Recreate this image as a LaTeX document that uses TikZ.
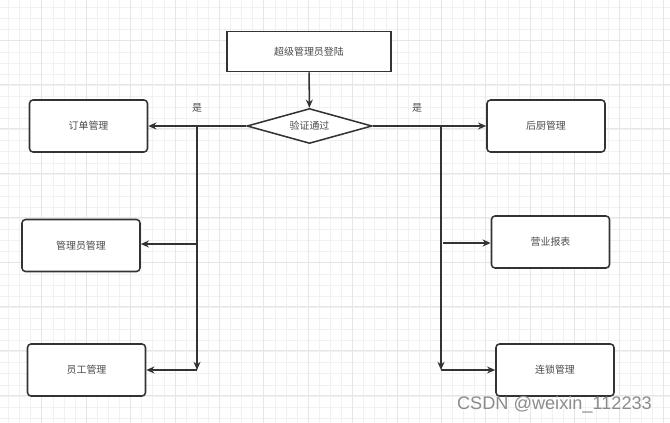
\documentclass[tikz,border=0pt]{standalone}
\usepackage{fontspec}
\newfontfamily\cjk{Noto Sans CJK SC}
\setsansfont{Liberation Sans}
\usetikzlibrary{arrows.meta,shapes.geometric,positioning}
\definecolor{lineclr}{HTML}{333333}
\definecolor{gridminor}{HTML}{F1F1F1}
\definecolor{gridmajor}{HTML}{E6E6E6}
\tikzset{
    module/.style={
    rectangle,rounded corners=3pt,draw=lineclr,line width=1.3pt,fill=white,
    minimum width=3.54cm,minimum height=1.56cm,font=\cjk\fontsize{8.5}{10}\selectfont,text=black!70
    },
    login/.style={
    rectangle,draw=lineclr,line width=1.3pt,fill=white,
    minimum width=4.92cm,minimum height=1.2cm,font=\cjk\fontsize{8.5}{10}\selectfont,text=black!70
    },
    check/.style={
    diamond,aspect=3.5,inner sep=0pt,draw=lineclr,line width=1.3pt,fill=white,
    minimum width=3.75cm,minimum height=1.05cm,font=\cjk\fontsize{8.5}{10}\selectfont,text=black!70
    },
    yes/.style={
    font=\cjk\fontsize{8.5}{10}\selectfont,text=black!70,inner sep=1pt
    },
    flow/.style={
    draw=lineclr,line width=1.3pt,-{Stealth[length=7pt,width=6pt]}
    },
}

\begin{document}
\begin{tikzpicture}[x=0.03cm,y=-0.03cm]
   \useasboundingbox (0,0) rectangle (670,423);
   \fill[white] (0,0) rectangle (670,423);
   % background grid
   \foreach \i in {0,...,60} {
     \draw[gridminor,line width=0.6pt] ({8.5+11.1*\i},0) -- ({8.5+11.1*\i},423);
   }
   \foreach \i in {0,...,38} {
     \draw[gridminor,line width=0.6pt] (0,{7.5+11.1*\i}) -- (670,{7.5+11.1*\i});
   }
   \foreach \i in {0,...,14} {
     \draw[gridmajor,line width=0.8pt] ({41.8+44.4*\i},0) -- ({41.8+44.4*\i},423);
   }
   \foreach \i in {0,...,9} {
     \draw[gridmajor,line width=0.8pt] (0,{40+44.4*\i}) -- (670,{40+44.4*\i});
   }

   \node[login] (top) at (309,51.5) {超级管理员登陆};
   \node[check] (verify) at (309.5,126) {验证通过};
   \node[module] (order) at (88.5,126) {订单管理};
   \node[module] (kitchen) at (546,126) {后厨管理};
   \node[module] (admin) at (81,245.5) {管理员管理};
   \node[module] (report) at (550.5,242) {营业报表};
   \node[module] (staff) at (86.5,370) {员工管理};
   \node[module] (chain) at (555,370) {连锁管理};

   \coordinate (bl) at (197,126);
   \coordinate (br) at (441,126);
   \coordinate (cl) at (197,370);
   \coordinate (cr) at (441,370);
   \coordinate (al) at (197,244);
   \coordinate (ar) at (443,243);

   \node[yes] (yesl) at (197,108) {是};
   \node[yes] (yesr) at (417,108) {是};

   \draw[flow] (top) -- (verify);
   \draw[flow] (verify.west) -- (order.east);
   \draw[flow] (verify.east) -- (kitchen.west);
   \draw[flow] (bl) -- (cl);
   \draw[flow] (cl) -- (staff.east);
   \draw[flow] (al) -- (admin.east |- al);
   \draw[flow] (br) -- (cr);
   \draw[flow] (cr) -- (chain.west);
   \draw[flow] (ar) -- (report.west |- ar);

   \node[font=\sffamily\fontsize{15.5}{18}\selectfont,text=black!45,anchor=east] (mark) at (656,405) {CSDN @weixin\_112233};
\end{tikzpicture}
\end{document}
